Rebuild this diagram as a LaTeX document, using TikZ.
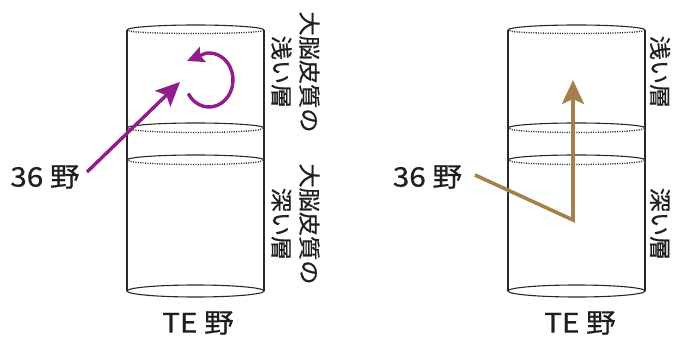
\documentclass[tikz,border=0pt]{standalone}
\usepackage{fontspec}
\setmainfont{Noto Sans CJK JP}[FakeStretch=1.1,FakeBold=0.6]
\usetikzlibrary{arrows.meta}
\definecolor{arrowpurple}{RGB}{146,28,140}
\definecolor{arrowgold}{RGB}{166,128,72}
\definecolor{cylline}{RGB}{40,40,40}
\begin{document}
\begin{tikzpicture}[x=1pt,y=1pt,
  cylsolid/.style={draw=cylline,line width=1.1pt},
  cyldots/.style={draw=cylline,line width=1.3pt,dash pattern=on 1.1pt off 1.3pt},
  lbl/.style={font=\fontsize{27}{32}\selectfont,inner sep=0pt,text=black!88},
  layer/.style={font=\fontsize{22}{28}\selectfont,rotate=-90,align=center,inner sep=0pt,text=black!88},
  bigtip/.style={-{Stealth[length=24pt,width=22pt,inset=5pt]}},
  smalltip/.style={-{Stealth[length=17pt,width=16pt,inset=3pt]}},
  purplearrow/.style={draw=arrowpurple,line width=3.4pt},
  goldarrow/.style={draw=arrowgold,line width=3.6pt,line join=miter}
]
\useasboundingbox (0,0) rectangle (674,338);
% cylinders
\foreach \dx in {127,508}{
  \begin{scope}[xshift=\dx pt]
    \foreach \yy/\ra/\rb in {308/5/3, 210/5/4, 178/5/4}{
      \draw[cylsolid] (0,\yy) arc[start angle=180,end angle=0,x radius=68.5,y radius=\ra];
      \draw[cyldots] (1.5,\yy-0.5) arc[start angle=180,end angle=360,x radius=67,y radius=\rb];
    }
    \draw[cylsolid] (68.5,47) ellipse[x radius=68.5,y radius=6];
    \draw[cylsolid] (0,308) -- (0,47);
    \draw[cylsolid] (137,308) -- (137,47);
  \end{scope}
}
% labels
\node[lbl] (l36) at (45,161) {36 野};
\node[lbl] (r36) at (427.5,161) {36 野};
\node[lbl] (lTE) at (198,15) {TE 野};
\node[lbl] (rTE) at (580,15) {TE 野};
\node[layer] (lup) at (295.5,266) {大脳皮質の\\浅い層};
\node[layer] (ldn) at (295.5,114) {大脳皮質の\\深い層};
\node[layer] (rup) at (660,266) {浅い層};
\node[layer] (rdn) at (660,114) {深い層};
% left arrows
\coordinate (pa) at (87,166);
\coordinate (pb) at (180,256);
\draw[purplearrow,bigtip] (pa) -- (pb);
\coordinate (cc) at (209,258);
\coordinate (ct) at (187,277);
\draw[purplearrow,smalltip] (cc) ++(210:24 and 27) arc[start angle=210,end angle=458,x radius=24,y radius=27] -- (ct);
% right arrow
\coordinate (ga) at (475,163);
\coordinate (gb) at (573,118);
\coordinate (gc) at (573,258);
\draw[goldarrow,bigtip] (ga) -- (gb) -- (gc);
\end{tikzpicture}
\end{document}
